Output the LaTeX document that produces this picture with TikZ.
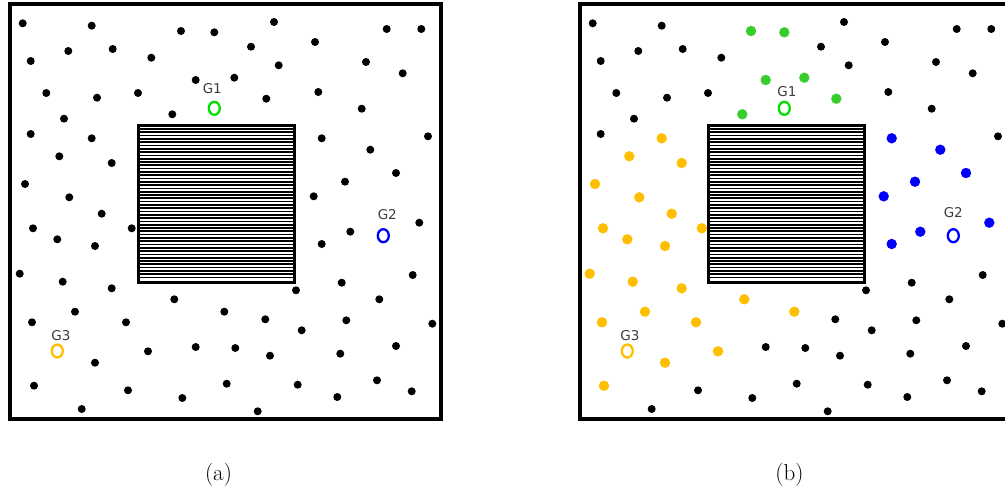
\documentclass[tikz,border=0pt]{standalone}
\usepackage{fontspec}
\usepackage{xcolor}
\usetikzlibrary{shapes.geometric}
\newfontfamily\labelfont{DejaVu Sans}

\definecolor{goalgreen}{RGB}{0,225,0}
\definecolor{dotgreen}{RGB}{55,205,45}
\definecolor{dotblue}{RGB}{0,0,250}
\definecolor{dotorange}{RGB}{255,190,0}
\definecolor{labelgray}{RGB}{60,60,60}

% point sets (pixels, y pointing down)
\newcommand{\otherpts}{(22.7,23.3),(91.7,25.7),(274,22),(386.7,29),(421.3,29),(68.3,51),(112.7,49),(30.7,61),(151.3,57.7),(251,46.7),(315,42),(278.7,65.3),(366,62),(402.7,73.3),(46.3,93),(97,97.7),(138,93),(318.3,92),(361.7,108.7),(64,118.7),(30.7,134),(428,136.3),(296,290.3),(341.7,282.7),(412.7,275),(379.3,299.3),(265.3,319.3),(301.7,330.3),(346.3,320.3),(432.3,323.7),(195.7,347),(235.3,348),(270,355.7),(340.3,353.7),(396,346),(128,390.3),(182.3,398),(226.7,383.7),(297.7,384.7),(337.3,397),(377,380.3),(411.7,391.3),(81.7,409),(257.7,411.3)}
\newcommand{\greenpts}{(181,31),(214.3,32.3),(195.7,80),(234.3,77.7),(266.3,98.7),(172.3,114.3)}
\newcommand{\bluepts}{(321.7,138.3),(370.3,149.7),(396,173),(345,181.7),(313.7,196.3),(350.3,231.7),(419.3,222.7),(321.7,244)}
\newcommand{\orangepts}{(91.7,138.3),(59.3,156.3),(111.7,163),(25,184),(69.3,197.3),(101.7,213.7),(33,228.3),(131.7,228.3),(57.3,239.3),(95,246),(19.7,273.7),(62.7,281.7),(111.7,288.3),(174.3,299.3),(75,311.7),(32,322.3),(126,322.3),(224.3,311.7),(95,362.7),(148,351.3),(34,385.7)}

\begin{document}
\begin{tikzpicture}[x=1pt,y=-1pt,
		field/.style={draw,line width=4pt},
		wall/.style={draw,line width=3pt},
		hatch/.style={line width=1.7pt},
		goal/.style={ellipse,draw,line width=2.3pt,minimum width=11pt,minimum height=13pt,inner sep=0pt},
		glabel/.style={font=\labelfont\fontsize{13.5}{16}\selectfont,text=labelgray,inner sep=0pt},
		caption/.style={font=\fontsize{23}{27}\selectfont,inner sep=0pt}]
	\useasboundingbox (0,0) rectangle (1005,490);
	
	% (a) all samples
	\draw[field] (9.5,4) rectangle (441.3,418.5);
	\foreach \i in {0,...,45}
		\draw[hatch] (139.5,129+\i*3.3) -- (293,129+\i*3.3);
	\draw[wall] (138,125) rectangle (294.5,282);
	\foreach \p in \otherpts \fill \p circle (4);
	\foreach \p in \greenpts \fill \p circle (4);
	\foreach \p in \bluepts \fill \p circle (4);
	\foreach \p in \orangepts \fill \p circle (4);
	\node[goal,draw=goalgreen] (g1a) at (214.3,108.3) {};
	\node[goal,draw=dotblue] (g2a) at (383.3,235.7) {};
	\node[goal,draw=dotorange] (g3a) at (57.3,351) {};
	\node[glabel] (g1alab) at (212.3,88.5) {G1};
	\node[glabel] (g2alab) at (387.3,215) {G2};
	\node[glabel] (g3alab) at (61,336) {G3};
	\node[caption] (capa) at (218.5,475) {(a)};
	
	% (b) samples grouped by goal
	\begin{scope}[xshift=570pt]
		\draw[field] (9.5,4) rectangle (441.3,418.5);
		\foreach \i in {0,...,45}
			\draw[hatch] (139.5,129+\i*3.3) -- (293,129+\i*3.3);
		\draw[wall] (138,125) rectangle (294.5,282);
		\foreach \p in \otherpts \fill \p circle (4);
		\foreach \p in \greenpts \fill[dotgreen] \p circle (5.2);
		\foreach \p in \bluepts \fill[dotblue] \p circle (5.2);
		\foreach \p in \orangepts \fill[dotorange] \p circle (5.2);
		\node[goal,draw=goalgreen] (g1b) at (214.3,108.3) {};
		\node[goal,draw=dotblue] (g2b) at (383.3,235.7) {};
		\node[goal,draw=dotorange] (g3b) at (57.3,351) {};
		\node[glabel] (g1blab) at (217,91.3) {G1};
		\node[glabel] (g2blab) at (383.3,212.5) {G2};
		\node[glabel] (g3blab) at (60,336) {G3};
		\node[caption] (capb) at (219.5,475) {(b)};
	\end{scope}
\end{tikzpicture}
\end{document}
